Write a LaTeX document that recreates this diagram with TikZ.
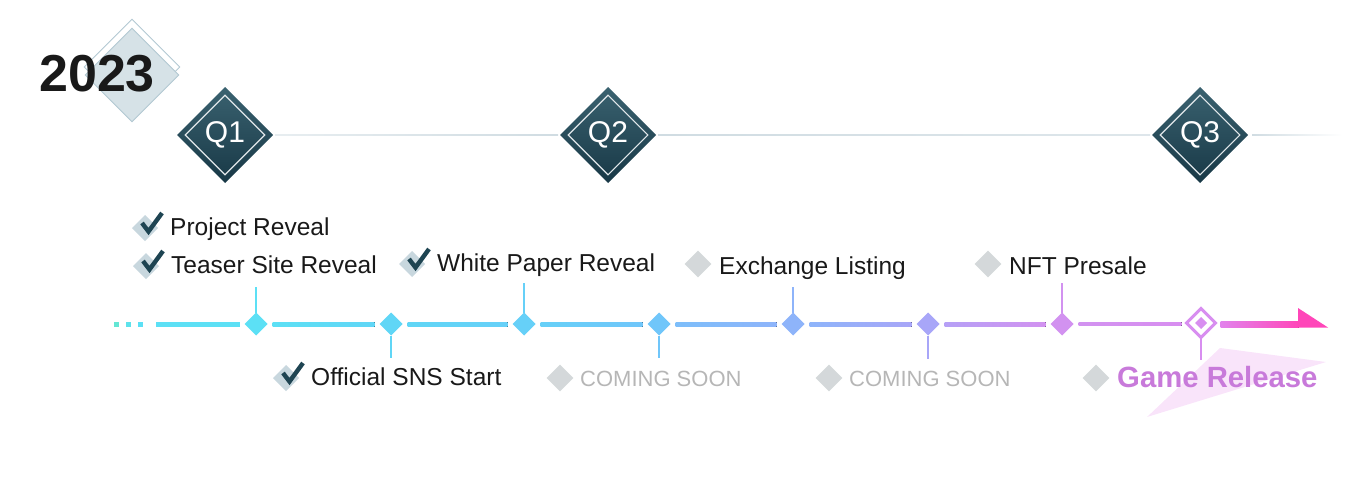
\documentclass[tikz,border=0pt]{standalone}
\usepackage{fontspec}
\setmainfont{Liberation Sans}
\usetikzlibrary{shapes.geometric,calc}
\definecolor{txt}{RGB}{25,25,25}
\definecolor{soon}{RGB}{182,182,182}
\definecolor{gmark}{RGB}{212,216,218}
\definecolor{chkbg}{RGB}{200,215,222}
\definecolor{chkfg}{RGB}{30,68,82}
\definecolor{qtop}{RGB}{58,98,112}
\definecolor{qbot}{RGB}{24,56,70}
\definecolor{hline}{RGB}{208,220,226}
\definecolor{yfill}{RGB}{214,226,231}
\definecolor{yline}{RGB}{178,200,210}
\definecolor{gamec}{RGB}{200,122,218}
\definecolor{gamebg}{RGB}{249,228,250}
\definecolor{cA}{RGB}{92,224,245}
\definecolor{cB}{RGB}{96,214,246}
\definecolor{cC}{RGB}{102,208,248}
\definecolor{cD}{RGB}{112,198,250}
\definecolor{cE}{RGB}{125,190,250}
\definecolor{cF}{RGB}{142,180,250}
\definecolor{cG}{RGB}{168,166,248}
\definecolor{cH}{RGB}{182,160,246}
\definecolor{cI}{RGB}{210,146,240}
\definecolor{cJ}{RGB}{216,142,240}
\definecolor{cK}{RGB}{226,130,236}
\definecolor{cL}{RGB}{255,70,185}
\definecolor{dA}{RGB}{100,230,212}
\tikzset{
  lbl/.style={font=\fontsize{24.5}{24.5}\selectfont, text=txt, inner sep=0pt, anchor=base west},
  soonlbl/.style={font=\fontsize{22}{22}\selectfont, text=soon, inner sep=0pt, anchor=base west},
  gamelbl/.style={font=\bfseries\fontsize{29.3}{29.3}\selectfont, text=gamec, inner sep=0pt, anchor=base west},
  qbox/.style={diamond, aspect=1, minimum width=96pt, minimum height=96pt, inner sep=0pt, outer sep=0pt,
     top color=qtop, bottom color=qbot, text=white, font=\fontsize{30}{30}\selectfont},
  qin/.style={diamond, aspect=1, minimum width=80pt, minimum height=80pt, inner sep=0pt, draw=white!85!qtop, line width=1.1pt},
  mk/.style={diamond, aspect=1, minimum width=23pt, minimum height=23pt, inner sep=0pt, outer sep=0pt, fill=#1},
  gm/.style={diamond, aspect=1, minimum width=27pt, minimum height=27pt, inner sep=0pt, fill=gmark},
  tick/.style={line width=1.1pt, draw=#1},
  pics/chk/.style={code={
     \fill[chkbg] (-25,-20) -- (-12,-7) -- (-25,6) -- (-38,-7) -- cycle;
     \draw[chkfg, line width=4.4pt, line join=miter, line cap=butt] (-28,-12) -- (-21.5,-3.5) -- (-8,-22);
  }}
}
\begin{document}
\begin{tikzpicture}[x=1pt,y=-1pt]
\useasboundingbox (0,0) rectangle (1368,487);
% ---- year badge
\node[diamond, aspect=1, minimum width=96pt, minimum height=96pt, inner sep=0pt, draw=yline, line width=0.9pt] (ydo) at (132,67) {};
\node[diamond, aspect=1, minimum width=94pt, minimum height=94pt, inner sep=0pt, fill=yfill, draw=yline, line width=0.9pt] (ydf) at (132,75) {};
\node[font=\bfseries\fontsize{52}{52}\selectfont, text=txt, inner sep=0pt, anchor=base west] (year) at (39,92) {2023};
% ---- quarter line
\node[qbox] (q1) at (225,135) {Q1};
\node[qbox] (q2) at (608,135) {Q2};
\node[qbox] (q3) at (1200,135) {Q3};
\node[qin] (q1i) at (q1) {};
\node[qin] (q2i) at (q2) {};
\node[qin] (q3i) at (q3) {};
\fill[left color=hline!50!white, right color=hline] ($(q1.east)+(2,-0.8)$) rectangle ($(q2.west)+(-2,0.8)$);
\fill[left color=hline, right color=hline!70!white] ($(q2.east)+(2,-0.8)$) rectangle ($(q3.west)+(-2,0.8)$);
\coordinate (qend) at (1342,135);
\fill[left color=hline, right color=white] ($(q3.east)+(4,-0.8)$) rectangle ($(qend)+(0,0.8)$);
% ---- timeline markers
\node[mk=cA] (m1) at (256,324) {};
\node[mk=cB] (m2) at (391,324) {};
\node[mk=cC] (m3) at (524,324) {};
\node[mk=cD] (m4) at (659,324) {};
\node[mk=cF] (m5) at (793,324) {};
\node[mk=cG] (m6) at (928,324) {};
\node[mk=cI] (m7) at (1062,324) {};
\node[diamond, aspect=1, minimum width=29pt, minimum height=29pt, inner sep=0pt, outer sep=0pt, draw=cJ, line width=3pt, fill=white] (m8) at (1201,323) {};
\node[mk=cJ, minimum width=12pt, minimum height=12pt] (m8i) at (m8) {};
% dots
\fill[dA] (114,322) rectangle (119,327);
\fill[cA!70!dA] (126,322) rectangle (131,327);
\fill[cA] (138,322) rectangle (143,327);
% segments
\coordinate (s0) at (156,324.5);
\fill[cA] ($(s0)+(0,-2.4)$) rectangle ($(m1.west)+(-5,2.9)$);
\fill[left color=cA, right color=cB] ($(m1.east)+(5,-1.9)$) rectangle ($(m2.west)+(-5,2.9)$);
\fill[left color=cB, right color=cC] ($(m2.east)+(5,-1.9)$) rectangle ($(m3.west)+(-5,2.9)$);
\fill[left color=cC, right color=cD] ($(m3.east)+(5,-1.9)$) rectangle ($(m4.west)+(-5,2.9)$);
\fill[left color=cE, right color=cF] ($(m4.east)+(5,-1.9)$) rectangle ($(m5.west)+(-5,2.9)$);
\fill[left color=cF, right color=cG] ($(m5.east)+(5,-1.9)$) rectangle ($(m6.west)+(-5,2.9)$);
\fill[left color=cH, right color=cI] ($(m6.east)+(5,-1.9)$) rectangle ($(m7.west)+(-5,2.9)$);
\fill[left color=cI, right color=cJ] ($(m7.east)+(5,-1.9)$) rectangle ($(m8.west)+(-5,2.9)$);
\coordinate (ah) at (1298,327.5);
\fill[left color=cK, right color=cL] ($(m8.east)+(5,-1.9)$) rectangle ($(ah)+(0.5,0)$);
\fill[cL] (ah) -- (1298,308) -- (1328,327.5) -- cycle;
% ticks
\coordinate (t1) at (256,287); \draw[tick=cA] (t1) -- (m1.north);
\coordinate (t3) at (524,283); \draw[tick=cC] (t3) -- (m3.north);
\coordinate (t5) at (793,287); \draw[tick=cF] (t5) -- (m5.north);
\coordinate (t7) at (1062,283); \draw[tick=cI] (t7) -- (m7.north);
\coordinate (t2) at (391,358); \draw[tick=cB] (m2.south) -- (t2);
\coordinate (t4) at (659,358); \draw[tick=cD] (m4.south) -- (t4);
\coordinate (t6) at (928,359); \draw[tick=cG] (m6.south) -- (t6);
% game release backdrop
\fill[gamebg] (1220,348) -- (1326,362) -- (1147,417) -- cycle;
\coordinate (t8) at (1201,360); \draw[tick=cJ] (m8.south) -- (t8);
% ---- labels above
\pic at (170,235) {chk};
\node[lbl] (l1) at (170,235) {Project Reveal};
\pic at (171,273) {chk};
\node[lbl] (l2) at (171,273) {Teaser Site Reveal};
\pic at (437,271) {chk};
\node[lbl] (l3) at (437,271) {White Paper Reveal};
\node[gm] (g1) at (698,264) {};
\node[lbl] (l4) at (719,274) {Exchange Listing};
\node[gm] (g2) at (988,264) {};
\node[lbl] (l5) at (1009,274) {NFT Presale};
% ---- labels below
\pic at (311,385) {chk};
\node[lbl] (l6) at (311,385) {Official SNS Start};
\node[gm] (g3) at (560,378) {};
\node[soonlbl] (l7) at (580,386) {COMING SOON};
\node[gm] (g4) at (829,378) {};
\node[soonlbl] (l8) at (849,386) {COMING SOON};
\node[gm] (g5) at (1096,378) {};
\node[gamelbl] (l9) at (1117,387) {Game Release};
\end{tikzpicture}
\end{document}
